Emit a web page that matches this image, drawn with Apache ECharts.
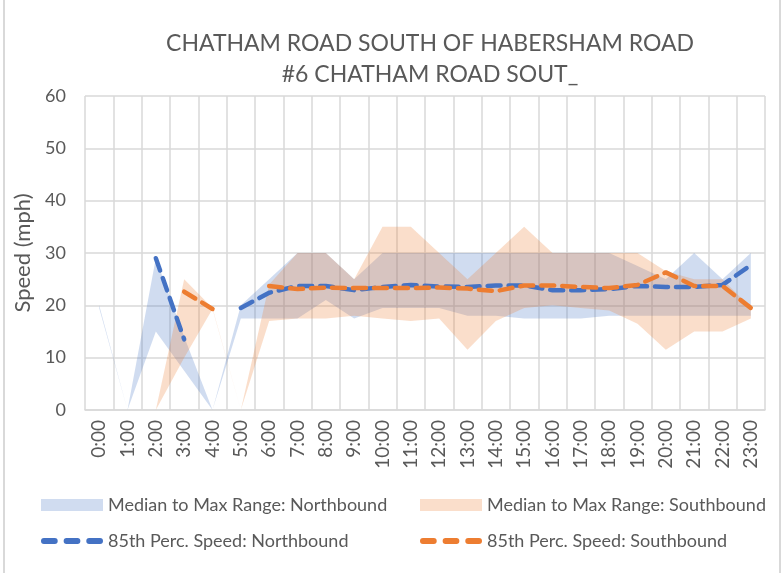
<!DOCTYPE html>
<html>
<head>
<meta charset="utf-8">
<script src="https://cdn.jsdelivr.net/npm/echarts@6/dist/echarts.min.js"></script>
<style>
  html, body { margin: 0; padding: 0; background: #fff; }
  #chart { width: 784px; height: 573px; }
</style>
</head>
<body>
<div id="chart"></div>
<script>
// Hourly speed profile, Chatham Road south of Habersham Road
const hours = ['0:00','1:00','2:00','3:00','4:00','5:00','6:00','7:00','8:00','9:00','10:00','11:00',
               '12:00','13:00','14:00','15:00','16:00','17:00','18:00','19:00','20:00','21:00','22:00','23:00'];
const yTicks = [0, 10, 20, 30, 40, 50, 60];

// Median and maximum speeds (mph) per hour
const nbMedian = [19.5, 0, 15, 7.5, 0, 17.5, 17.5, 17.5, 21, 17.5, 19.5, 19.5, 19.5, 18, 18, 17.5, 17.5, 17.5, 18, 18, 18, 18, 18, 18];
const nbMax    = [20, 0, 29, 14, 0, 20, 25, 30, 30, 25, 30, 30, 30, 30, 30, 30, 30, 30, 30, 27.5, 25, 30, 25, 30];
const sbMedian = [0, 0, 0, 10, 19.3, 0, 17, 17.5, 17.5, 18, 17.5, 17, 17.5, 11.5, 17, 19.5, 20, 19.5, 19, 16.5, 11.5, 15, 15, 17.5];
const sbMax    = [0, 0, 0, 25, 19.5, 0, 24, 30, 30, 25, 35, 35, 30, 25, 30, 35, 30, 30, 30, 30, 26.5, 25, 25, 19.5];

// 85th percentile speeds (mph)
const nb85 = [null, null, 29, 13.5, null, 19.5, 22.4, 23.7, 23.7, 22.9, 23.5, 23.9, 23.6, 23.5, 23.8, 23.8, 22.9, 22.9, 23.1, 23.7, 23.5, 23.5, 23.9, 27.7];
const sb85 = [null, null, null, 22.6, 19.3, null, 23.7, 23.1, 23.4, 23.3, 23.3, 23.3, 23.4, 23.2, 22.7, 23.8, 23.8, 23.5, 23.3, 23.9, 26.3, 23.7, 23.7, 19.5];

const NB_BAND = 'Median to Max Range: Northbound';
const SB_BAND = 'Median to Max Range: Southbound';
const NB_85 = '85th Perc. Speed: Northbound';
const SB_85 = '85th Perc. Speed: Southbound';

const FONT = 'Lato, "Open Sans", sans-serif';
const TEXT = '#595959';
const GRID = '#d9d9d9';
const BLUE = '#4472C4';
const ORANGE = '#ED7D31';
const BLUE_FILL = 'rgba(68,114,196,0.25)';
const ORANGE_FILL = 'rgba(237,125,49,0.25)';

// Legend glyph for the dashed series: three rounded dashes
const DASH_ICON = 'path://M3,0h11a3,3 0 0 1 0,6h-11a3,3 0 0 1 0,-6z' +
                  'M26,0h11a3,3 0 0 1 0,6h-11a3,3 0 0 1 0,-6z' +
                  'M49,0h11a3,3 0 0 1 0,6h-11a3,3 0 0 1 0,-6z';

// The stacked band is drawn as an invisible median base plus the median-to-max span
const span = (hi, lo) => hi.map((v, i) => +(v - lo[i]).toFixed(2));

function base(stack, data) {
  return {
    type: 'line', stack: stack, data: data, symbol: 'none', silent: true,
    lineStyle: { opacity: 0 }, z: 1
  };
}
function band(name, stack, lo, hi, fill) {
  return {
    name: name, type: 'line', stack: stack, data: span(hi, lo), symbol: 'none',
    lineStyle: { opacity: 0 }, itemStyle: { color: fill },
    areaStyle: { color: fill, opacity: 1 }, z: 2
  };
}
function dashed(name, data, color, z) {
  return {
    name: name, type: 'line', data: data, symbol: 'none', connectNulls: false,
    itemStyle: { color: color },
    lineStyle: { color: color, width: 4.5, type: [13, 8], cap: 'round' }, z: z
  };
}

const legendText = { fontFamily: FONT, fontSize: 18, color: TEXT };
function legendEntry(left, top, name, icon, color, h) {
  return {
    left: left, top: top, itemWidth: 62, itemHeight: h, textStyle: legendText,
    data: [{ name: name, icon: icon, itemStyle: { color: color, opacity: 1 } }]
  };
}

const chart = echarts.init(document.getElementById('chart'), null, { renderer: 'canvas' });
chart.setOption({
  animation: false,
  backgroundColor: '#fff',
  title: {
    text: 'CHATHAM ROAD SOUTH OF HABERSHAM ROAD\n#6 CHATHAM ROAD SOUT_',
    left: 425, top: 23, textAlign: 'center',
    textStyle: { fontFamily: FONT, fontSize: 23, fontWeight: 'normal', color: TEXT, lineHeight: 31 }
  },
  grid: { left: 85, right: 19, top: 96, bottom: 163, containLabel: false },
  legend: [
    legendEntry(36, 491, NB_BAND, 'rect', BLUE_FILL, 12),
    legendEntry(415, 491, SB_BAND, 'rect', ORANGE_FILL, 12),
    legendEntry(36, 527, NB_85, DASH_ICON, BLUE, 6),
    legendEntry(415, 527, SB_85, DASH_ICON, ORANGE, 6)
  ],
  xAxis: {
    type: 'category', data: hours, boundaryGap: true,
    axisLine: { lineStyle: { color: GRID, width: 1.5 } },
    axisTick: { show: false },
    axisLabel: { rotate: 90, interval: 0, margin: 10, fontFamily: FONT, fontSize: 19, color: TEXT },
    splitLine: { show: true, interval: 0, lineStyle: { color: GRID, width: 1.5 } }
  },
  yAxis: {
    type: 'value', min: 0, max: 60, interval: 10,
    name: 'Speed (mph)', nameLocation: 'middle', nameGap: 49,
    nameTextStyle: { fontFamily: FONT, fontSize: 22, fontWeight: 'normal', color: TEXT },
    axisLine: { show: false }, axisTick: { show: false },
    axisLabel: {
      margin: 19, fontFamily: FONT, fontSize: 18, color: TEXT,
      formatter: v => (yTicks.indexOf(v) >= 0 ? String(v) : '')
    },
    splitLine: { lineStyle: { color: GRID, width: 1.5 } }
  },
  series: [
    base('nb', nbMedian),
    band(NB_BAND, 'nb', nbMedian, nbMax, BLUE_FILL),
    base('sb', sbMedian),
    band(SB_BAND, 'sb', sbMedian, sbMax, ORANGE_FILL),
    dashed(NB_85, nb85, BLUE, 3),
    dashed(SB_85, sb85, ORANGE, 4)
  ],
  graphic: [{
    type: 'rect', silent: true, z: 100,
    shape: { x: 4, y: -10, width: 776, height: 600 },
    style: { fill: null, stroke: GRID, lineWidth: 2 }
  }]
});
</script>
</body>
</html>
